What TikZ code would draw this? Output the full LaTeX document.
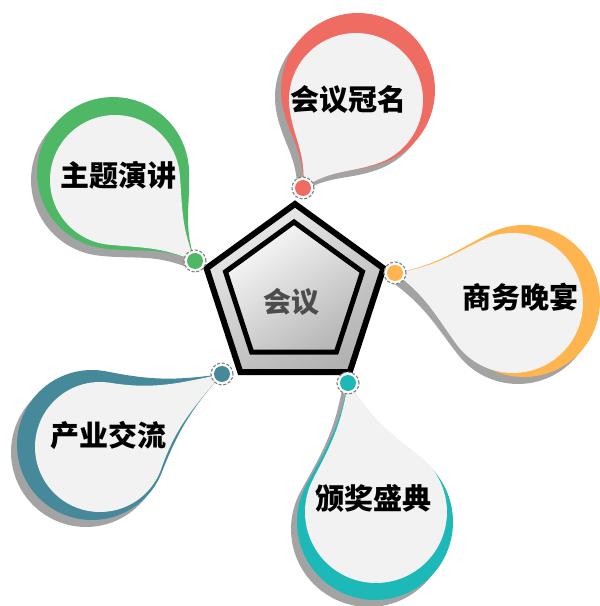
\documentclass[tikz,border=0pt]{standalone}
\usepackage{fontspec}
\newfontfamily\cjk{Noto Sans CJK SC}
\usetikzlibrary{calc}
\definecolor{cred}{HTML}{EF6C63}
\definecolor{cgreen}{HTML}{4EB866}
\definecolor{corange}{HTML}{FFB54F}
\definecolor{cdteal}{HTML}{46899A}
\definecolor{cteal}{HTML}{1DB9B8}
\definecolor{clight}{HTML}{F2F2F2}
\definecolor{cshadow}{HTML}{A3A3A3}
\definecolor{cring}{HTML}{7F7F7F}

% style, tip x, tip y, centre x, centre y, radius
\newcommand\dropfill[6]{%
  \pgfmathsetmacro\dang{atan2((#5)-(#3),(#4)-(#2))}%
  \pgfmathsetmacro\dL{veclen((#4)-(#2),(#5)-(#3))/(#6)}%
  \begin{scope}[shift={(#2,#3)}, rotate=\dang, scale=#6]
    \fill[#1] (0,0) .. controls ({0.3*\dL},0.22) and ({\dL-0.643-0.23*\dL},{0.766-0.193*\dL}) .. ({\dL-0.643},0.766)
      -- plot[domain=130:-130, samples=90] ({\dL+cos(\x)},{sin(\x)})
      .. controls ({\dL-0.643-0.23*\dL},{-0.766+0.193*\dL}) and ({0.3*\dL},-0.22) .. (0,0) -- cycle;
  \end{scope}}
% colour, tip x,y, light centre x,y, light r, coloured centre x,y, coloured r
\newcommand\drop[9]{%
  \dropfill{cshadow}{#2-6}{#3-7}{#7-6}{#8-7}{#9}%
  \dropfill{#1}{#2}{#3}{#7}{#8}{#9}%
  \dropfill{clight}{#2}{#3}{#4}{#5}{#6}}

\begin{document}
\begin{tikzpicture}[x=1pt,y=1pt,
  lbl/.style={font=\cjk\bfseries\fontsize{29}{29}\selectfont, text=black, inner sep=0pt},
  ctr/.style={font=\cjk\bfseries\fontsize{28}{28}\selectfont, text=black!70, inner sep=0pt},
  ring/.style={circle, draw=cring, line width=1.1pt, dash pattern=on 3pt off 1.8pt, fill=white, minimum size=22pt, inner sep=0pt},
  dotc/.style={circle, fill=#1, minimum size=16pt, inner sep=0pt},
  penta/.style={draw=black, line join=miter}]
\useasboundingbox (0,0) rectangle (600,606);

% drops
\drop{cred}{303}{418}{356}{506}{67}{358}{516}{77}
\drop{cgreen}{195}{345}{115}{426}{65}{113}{433}{76}
\drop{corange}{395}{333}{513}{303}{70}{524}{305}{76}
\drop{cdteal}{222}{232}{100}{159}{65}{92}{161}{75}
\drop{cteal}{348}{223}{376}{94}{71}{375}{84}{78}

% pentagons
\coordinate (po) at (295,309);
\coordinate (pi) at (294,312);
\path[penta, line width=6pt, top color=white!92!black, bottom color=black!30, shading angle=30]
  ([shift={(90:93)}]po) -- ([shift={(162:93)}]po) -- ([shift={(234:93)}]po) -- ([shift={(306:93)}]po) -- ([shift={(18:93)}]po) -- cycle;
\path[penta, line width=5pt, top color=white!98!black, bottom color=black!28, shading angle=35]
  ([shift={(90:72)}]pi) -- ([shift={(162:72)}]pi) -- ([shift={(234:72)}]pi) -- ([shift={(306:72)}]pi) -- ([shift={(18:72)}]pi) -- cycle;
\node[ctr] (centre) at (291,304) {会议};

% small circles
\node[ring] (r1) at (303,418) {}; \node[dotc=cred] (d1) at (r1) {};
\node[ring] (r2) at (195,345) {}; \node[dotc=cgreen] (d2) at (r2) {};
\node[ring] (r3) at (395,333) {}; \node[dotc=corange] (d3) at (r3) {};
\node[ring] (r4) at (222,232) {}; \node[dotc=cdteal] (d4) at (r4) {};
\node[ring] (r5) at (348,223) {}; \node[dotc=cteal] (d5) at (r5) {};

% labels
\node[lbl] (t1) at (348,506) {会议冠名};
\node[lbl] (t2) at (118,431) {主题演讲};
\node[lbl] (t3) at (520,309) {商务晚宴};
\node[lbl] (t4) at (108,171) {产业交流};
\node[lbl] (t5) at (373,108) {颁奖盛典};
\end{tikzpicture}
\end{document}
